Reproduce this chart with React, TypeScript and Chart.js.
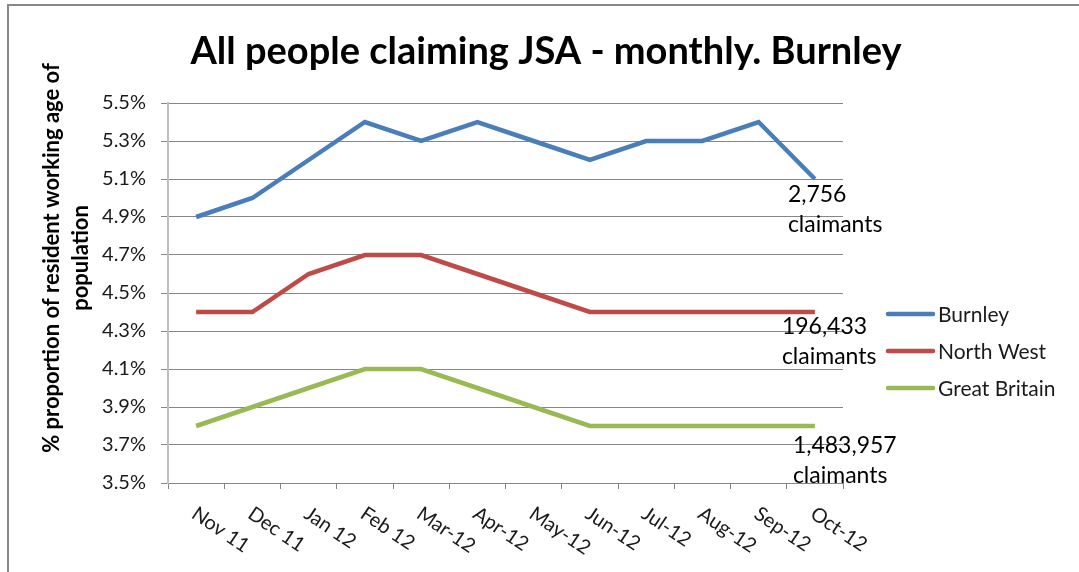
import React, { useEffect, useRef } from 'react';
import { Chart, registerables } from 'chart.js';

Chart.register(...registerables);

// ---- data ----
const categories = ['Nov 11', 'Dec 11', 'Jan 12', 'Feb 12', 'Mar-12', 'Apr-12', 'May-12', 'Jun-12', 'Jul-12', 'Aug-12', 'Sep-12', 'Oct-12'];
const seriesNames = ['Burnley', 'North West', 'Great Britain'];
const burnley = [4.9, 5.0, 5.2, 5.4, 5.3, 5.4, 5.3, 5.2, 5.3, 5.3, 5.4, 5.1];
const northWest = [4.4, 4.4, 4.6, 4.7, 4.7, 4.6, 4.5, 4.4, 4.4, 4.4, 4.4, 4.4];
const greatBritain = [3.8, 3.9, 4.0, 4.1, 4.1, 4.0, 3.9, 3.8, 3.8, 3.8, 3.8, 3.8];
const claimantLabels = [
  ['2,756', 'claimants'],
  ['196,433', 'claimants'],
  ['1,483,957', 'claimants'],
];
const yMin = 3.5;
const yMax = 5.5;
const yStep = 0.2;
const titleText = 'All people claiming JSA - monthly. Burnley';
const yTitleLines = ['% proportion of resident working age of', 'population'];

// ---- styles / positions ----
const W = 1079;
const H = 572;
const colors = ['#4A7EBB', '#BE4B48', '#98B954'];
const FONT = 'Lato, "Open Sans", sans-serif';
const labelOffsets = [
  { dx: -27, dy: 23 },
  { dx: -33, dy: 22 },
  { dx: -22, dy: 27 },
];

const overlayPlugin = {
  id: 'overlay',
  afterDraw(chart: any) {
    const { ctx } = chart;
    const x = chart.scales.x;
    ctx.save();

    // title
    ctx.fillStyle = '#000';
    ctx.font = `bold 38px ${FONT}`;
    ctx.textAlign = 'center';
    ctx.textBaseline = 'alphabetic';
    ctx.fillText(titleText, 546, 64);

    // y axis title
    ctx.font = `bold 22px ${FONT}`;
    ctx.textBaseline = 'middle';
    yTitleLines.forEach((line, i) => {
      ctx.save();
      ctx.translate(52 + i * 29, 258);
      ctx.rotate(-Math.PI / 2);
      ctx.textAlign = 'center';
      ctx.fillText(line, 0, 0);
      ctx.restore();
    });

    // x labels (rotated clockwise)
    ctx.font = `20px ${FONT}`;
    ctx.fillStyle = '#1a1a1a';
    ctx.textBaseline = 'alphabetic';
    categories.forEach((lab, i) => {
      const px = x.getPixelForTick(i);
      ctx.save();
      ctx.translate(px - 6, x.top + 34);
      ctx.rotate((34 * Math.PI) / 180);
      ctx.textAlign = 'left';
      ctx.fillText(lab, 0, 0);
      ctx.restore();
    });

    // end-of-line claimant labels
    ctx.font = `23px ${FONT}`;
    ctx.fillStyle = '#000';
    ctx.textAlign = 'left';
    chart.data.datasets.forEach((ds: any, i: number) => {
      const meta = chart.getDatasetMeta(i);
      const last = meta.data[meta.data.length - 1];
      const off = labelOffsets[i];
      claimantLabels[i].forEach((t, j) => {
        ctx.fillText(t, last.x + off.dx, last.y + off.dy + j * 30);
      });
    });

    // legend
    chart.data.datasets.forEach((ds: any, i: number) => {
      const ly = 314 + i * 37;
      ctx.strokeStyle = ds.borderColor;
      ctx.lineWidth = 4.5;
      ctx.lineCap = 'round';
      ctx.beginPath();
      ctx.moveTo(888, ly);
      ctx.lineTo(933, ly);
      ctx.stroke();
      ctx.font = `21px ${FONT}`;
      ctx.fillStyle = '#1a1a1a';
      ctx.textAlign = 'left';
      ctx.textBaseline = 'alphabetic';
      ctx.fillText(ds.label, 938, ly + 8);
    });

    ctx.restore();
  },
};

export default function App() {
  const canvasRef = useRef<HTMLCanvasElement | null>(null);

  useEffect(() => {
    const canvas = canvasRef.current;
    if (!canvas) return;
    const seriesValues = [burnley, northWest, greatBritain];
    const chart = new Chart(canvas, {
      type: 'line',
      data: {
        labels: categories,
        datasets: seriesValues.map((vals, i) => ({
          label: seriesNames[i],
          data: vals,
          borderColor: colors[i],
          backgroundColor: colors[i],
          borderWidth: 4.5,
          pointRadius: 0,
          pointHoverRadius: 0,
          tension: 0,
          fill: false,
        })),
      },
      options: {
        responsive: false,
        animation: false,
        devicePixelRatio: 1,
        layout: { padding: { top: 103, right: W - 843, bottom: 0, left: 0 } },
        plugins: {
          legend: { display: false },
          title: { display: false },
          tooltip: { enabled: false },
        },
        scales: {
          x: {
            type: 'category',
            offset: true,
            grid: {
              offset: true,
              drawOnChartArea: false,
              drawTicks: true,
              tickLength: 6,
              color: '#868686',
            },
            border: { display: true, color: '#868686', width: 1 },
            ticks: { display: false },
            afterFit: (scale: any) => {
              scale.height = H - 483;
            },
          },
          y: {
            min: yMin,
            max: yMax,
            grid: {
              color: '#868686',
              lineWidth: 1,
              drawTicks: true,
              tickLength: 7,
            },
            border: { display: true, color: '#BFBFBF', width: 2 },
            ticks: {
              stepSize: yStep,
              padding: 15,
              color: '#1a1a1a',
              font: { family: FONT, size: 20 },
              callback: (v: any) => `${Number(v).toFixed(1)}%`,
            },
            afterFit: (scale: any) => {
              scale.width = 168;
            },
          },
        },
      },
      plugins: [overlayPlugin],
    });
    return () => chart.destroy();
  }, []);

  return (
    <div style={{ position: 'fixed', left: 0, top: 0, width: W, height: H, overflow: 'hidden', background: '#fff' }}>
      <div
        style={{
          position: 'absolute',
          left: 7,
          top: 4,
          width: W + 20,
          height: H + 20,
          borderTop: '2px solid #888',
          borderLeft: '2px solid #888',
        }}
      />
      <canvas ref={canvasRef} width={W} height={H} style={{ position: 'absolute', left: 0, top: 0 }} />
    </div>
  );
}
